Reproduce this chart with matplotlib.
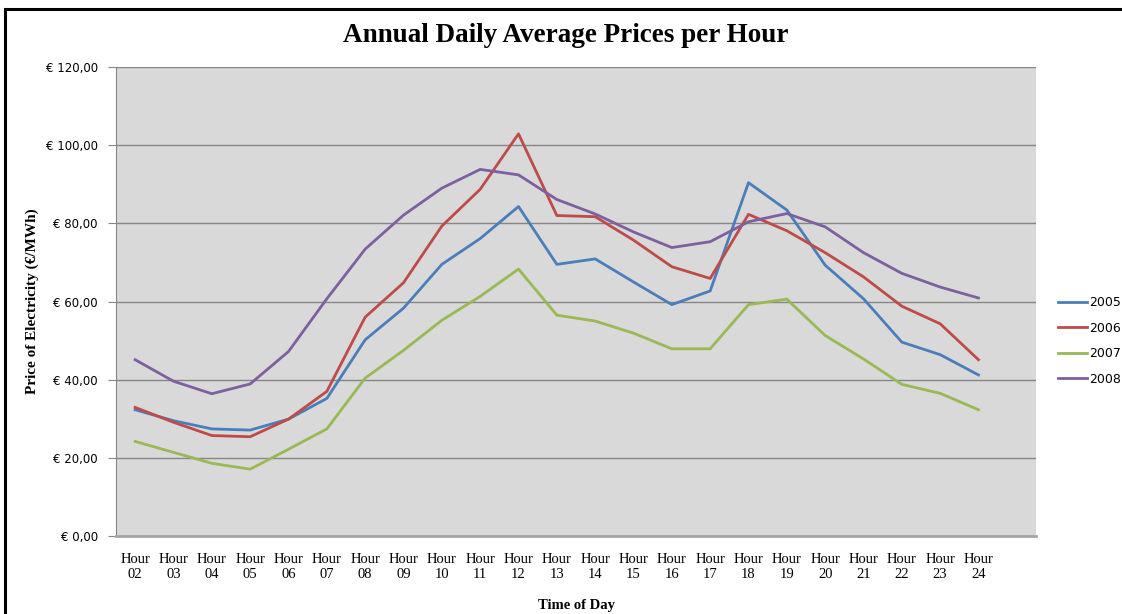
import matplotlib
matplotlib.use("Agg")
import matplotlib.pyplot as plt
from matplotlib.patches import Rectangle
from matplotlib.ticker import FuncFormatter


hours = [
    "02", "03", "04", "05", "06", "07", "08", "09", "10", "11", "12",
    "13", "14", "15", "16", "17", "18", "19", "20", "21", "22", "23", "24"
]

price_2005 = [
    32.3, 29.5, 27.4, 27.1, 29.9, 35.2, 50.2, 58.3, 69.5, 76.1, 84.3,
    69.5, 70.9, 65.0, 59.2, 62.7, 90.4, 83.4, 69.3, 60.7, 49.6, 46.4, 41.2
]
price_2006 = [
    32.9, 29.1, 25.7, 25.4, 29.9, 37.0, 56.0, 64.8, 79.3, 88.7, 102.9,
    82.0, 81.7, 75.7, 68.9, 65.9, 82.3, 78.1, 72.5, 66.3, 58.8, 54.3, 45.1
]
price_2007 = [
    24.2, 21.4, 18.6, 17.1, 22.2, 27.4, 40.4, 47.5, 55.2, 61.3, 68.3,
    56.5, 55.0, 51.9, 47.9, 47.9, 59.2, 60.6, 51.3, 45.3, 38.8, 36.5, 32.3
]
price_2008 = [
    45.1, 39.6, 36.4, 38.9, 47.2, 60.7, 73.4, 82.1, 89.0, 93.8, 92.4,
    86.1, 82.4, 77.8, 73.8, 75.3, 80.4, 82.5, 79.1, 72.5, 67.2, 63.7, 60.9
]

series = [
    ("2005", price_2005, "#4a7ebb"),
    ("2006", price_2006, "#be4b48"),
    ("2007", price_2007, "#98b954"),
    ("2008", price_2008, "#7d60a0"),
]

serif = ["Liberation Serif", "DejaVu Serif"]

fig = plt.figure(figsize=(11.22, 6.14), dpi=100)
ax = fig.add_axes([116 / 1122, 78 / 614, 920 / 1122, 469 / 614])

x = list(range(len(hours)))

ax.set_facecolor("#d9d9d9")
for v in range(20, 121, 20):
    ax.axhline(v, color="#868686", linewidth=1.0, zorder=1)

for name, vals, color in series:
    ax.plot(x, vals, color=color, linewidth=2.0, label=name, zorder=3,
            solid_joinstyle="round")

# one empty slot after Hour 24, like the original category axis
ax.set_xlim(-0.5, len(hours) + 0.5)
ax.set_ylim(0, 120)
ax.set_yticks(range(0, 121, 20))
ax.yaxis.set_major_formatter(
    FuncFormatter(lambda v, p: "€ " + f"{v:.2f}".replace(".", ","))
)
ax.set_xticks(x)
labels = ax.set_xticklabels([f"Hour\n{h}" for h in hours], family=serif,
                            fontsize=10.5, linespacing=1.25)
for lab in labels:
    lab.set_multialignment("center")

ax.tick_params(axis="y", labelsize=8.5, length=6, color="#868686", pad=7)
ax.tick_params(axis="x", length=0, pad=12)

for s in ["top", "right"]:
    ax.spines[s].set_visible(False)
ax.spines["left"].set_color("#868686")
ax.spines["bottom"].set_color("#a6a6a6")
ax.spines["bottom"].set_linewidth(2)

ax.set_ylabel("Price of Electricity (€/MWh)", family=serif,
              fontweight="bold", fontsize=11, labelpad=5)
ax.set_xlabel("Time of Day", family=serif, fontweight="bold", fontsize=10.5,
              labelpad=13)

fig.text(566 / 1122, 1 - 36 / 614, "Annual Daily Average Prices per Hour",
         family=serif, fontweight="bold", fontsize=19.5,
         ha="center", va="center")

ax.legend(loc="center left", bbox_to_anchor=(1.012, 0.416), frameon=False,
          fontsize=9, handlelength=2.3, handletextpad=0.15,
          labelspacing=1.0)

# outer chart border: only top and left edges fall inside the image
frame = Rectangle((5 / 1122, -0.05), 1.0, 1.05 - 9 / 614,
                  transform=fig.transFigure, fill=False,
                  edgecolor="black", linewidth=2.2, clip_on=False)
fig.patches.append(frame)

plt.savefig("out.png", dpi=100)
plt.close()
